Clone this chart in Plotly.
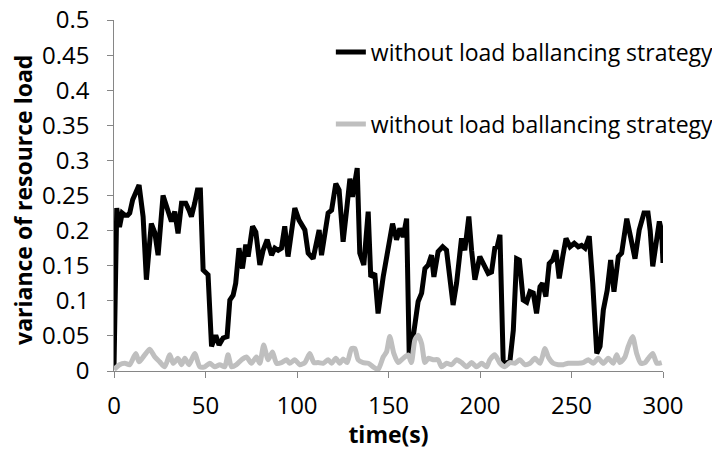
import plotly.graph_objects as go

# series
time_black = [0, 1.5, 3, 4.5, 6, 7.5, 8.6, 10.2, 13.7, 15.9, 17.7, 20.4, 22.3, 24.1, 26.8, 29, 31.4,
              33.2, 35, 36.9, 39.2, 41, 42.3, 44.1, 45.6, 47.2, 48.7, 51.4, 53.3, 55.6, 57.4, 59.6,
              61.8, 63.3, 65.1, 66.5, 68.3, 70.2, 72, 73.3, 75.7, 77.5, 79.7, 81.5, 83.7, 86.1, 87.9,
              89.7, 91.5, 93.3, 95.1, 98.8, 101.1, 104.3, 106.1, 108.8, 110.7, 112.1, 113.4, 115.2,
              117, 118.9, 121.2, 123, 125.2, 127.1, 128.9, 130.3, 132.9, 134.3, 136.5, 138.9, 140.3,
              142.5, 144.3, 147.1, 149.8, 152.2, 154.4, 156.2, 158, 159.9, 161.3, 163.5, 166.2, 168.1,
              169.9, 171.7, 173.5, 174.8, 177.1, 179.6, 181.7, 183.5, 185.3, 187.2, 189, 189.9, 191.7,
              193.9, 195.4, 197.2, 199.9, 202.7, 204.5, 206.3, 208.1, 209.4, 210.9, 212.7, 214.5,
              216.4, 218.2, 220, 221.5, 223.6, 225.5, 227.3, 229.1, 230.9, 232.8, 234.2, 236, 237.8,
              239.7, 241.5, 243.3, 245.2, 247, 249.2, 251.5, 253.7, 255.5, 257.4, 259.7, 261.6, 263.8,
              265.6, 267.4, 269.5, 271.4, 273.2, 275.6, 277.4, 280.2, 282.3, 284.7, 287, 289.6, 291.8,
              293, 294.4, 296.4, 298, 299.2, 300]
load_black = [0.005, 0.232, 0.205, 0.225, 0.222, 0.222, 0.225, 0.244, 0.265, 0.22, 0.13, 0.21, 0.197,
              0.165, 0.25, 0.234, 0.213, 0.227, 0.196, 0.239, 0.239, 0.229, 0.22, 0.239, 0.258, 0.258,
              0.144, 0.137, 0.035, 0.051, 0.037, 0.047, 0.049, 0.101, 0.108, 0.125, 0.175, 0.146, 0.18,
              0.163, 0.206, 0.198, 0.151, 0.172, 0.187, 0.165, 0.175, 0.172, 0.175, 0.206, 0.163, 0.232,
              0.215, 0.201, 0.168, 0.16, 0.189, 0.201, 0.165, 0.191, 0.225, 0.229, 0.267, 0.258, 0.184,
              0.229, 0.274, 0.248, 0.289, 0.168, 0.151, 0.227, 0.134, 0.139, 0.082, 0.134, 0.177, 0.21,
              0.187, 0.203, 0.191, 0.217, 0.025, 0.049, 0.099, 0.111, 0.146, 0.151, 0.165, 0.134, 0.17,
              0.177, 0.172, 0.137, 0.094, 0.125, 0.168, 0.189, 0.172, 0.22, 0.172, 0.13, 0.163, 0.149,
              0.139, 0.141, 0.175, 0.177, 0.194, 0.011, 0.011, 0.015, 0.058, 0.16, 0.158, 0.101, 0.098,
              0.113, 0.111, 0.082, 0.12, 0.125, 0.106, 0.153, 0.158, 0.172, 0.132, 0.163, 0.189, 0.177,
              0.182, 0.177, 0.179, 0.175, 0.192, 0.125, 0.025, 0.035, 0.087, 0.115, 0.158, 0.113, 0.163,
              0.168, 0.217, 0.191, 0.16, 0.201, 0.225, 0.225, 0.2, 0.149, 0.19, 0.213, 0.2, 0.154]

time_gray = [0, 3, 5.9, 8.6, 11.9, 13.7, 16.8, 19.5, 22.3, 25, 27.7, 30.5, 32.3, 35, 36.9, 38.7, 41,
             44.1, 46.9, 49.6, 52.3, 55.1, 57.8, 60.5, 62.3, 64.2, 66.9, 69.7, 72.4, 75.1, 77.8, 79.7,
             81.8, 84.2, 86.6, 88.8, 91.5, 94.3, 96, 98.8, 101.5, 104.3, 107, 109.2, 111.5, 114.3,
             117, 118.9, 121.2, 123.4, 125.2, 127.4, 129.8, 131.6, 133.4, 136.1, 138.9, 141.6, 144.3,
             147.1, 148.9, 150.7, 152.9, 155.3, 158, 160.7, 162.5, 164.4, 166.2, 168.1, 169.9, 171.7,
             174.4, 177.1, 179, 181.7, 184.5, 187.2, 190, 192.7, 195.4, 198.1, 200.9, 203.6, 205.4,
             208.1, 210.9, 213.6, 216.3, 219.1, 221.8, 224.5, 227.3, 230, 232.8, 235.5, 237.3, 240,
             242.8, 245.5, 248.2, 251, 253.7, 256.4, 259.2, 261.9, 264.6, 267.4, 270.1, 272.8, 274.7,
             276.5, 279.2, 281, 283.4, 285.6, 287.8, 290.2, 292, 294.4, 296.6, 299.3]
load_gray = [0.002, 0.009, 0.011, 0.009, 0.025, 0.013, 0.023, 0.031, 0.02, 0.013, 0.006, 0.023, 0.011,
             0.018, 0.009, 0.018, 0.009, 0.025, 0.006, 0.006, 0.011, 0.006, 0.009, 0.006, 0.023, 0.006,
             0.009, 0.016, 0.02, 0.011, 0.02, 0.011, 0.037, 0.016, 0.027, 0.011, 0.012, 0.016, 0.011,
             0.016, 0.009, 0.012, 0.025, 0.012, 0.012, 0.011, 0.016, 0.011, 0.018, 0.011, 0.017, 0.012,
             0.032, 0.032, 0.016, 0.012, 0.011, 0.006, 0.002, 0.02, 0.027, 0.049, 0.025, 0.012, 0.018,
             0.023, 0.012, 0.044, 0.051, 0.039, 0.012, 0.018, 0.016, 0.016, 0.006, 0.011, 0.009, 0.016,
             0.012, 0.006, 0.012, 0.006, 0.011, 0.006, 0.016, 0.023, 0.011, 0.006, 0.012, 0.011, 0.016,
             0.009, 0.011, 0.018, 0.011, 0.032, 0.02, 0.011, 0.009, 0.009, 0.011, 0.011, 0.011, 0.012,
             0.016, 0.011, 0.018, 0.011, 0.018, 0.011, 0.023, 0.012, 0.02, 0.035, 0.049, 0.025, 0.011,
             0.012, 0.018, 0.025, 0.011, 0.012]

series_name = "without load ballancing strategy"
axis_color = "#868686"
font_family = "Open Sans, sans-serif"

fig = go.Figure()
fig.add_trace(go.Scatter(x=time_black, y=load_black, mode="lines", name=series_name,
                         legendgroup="a", line=dict(color="#000000", width=5)))
fig.add_trace(go.Scatter(x=time_gray, y=load_gray, mode="lines", name=series_name,
                         legendgroup="b", line=dict(color="#BFBFBF", width=5, shape="spline", smoothing=0.6)))

# the page body has an 8px margin, so the figure is sized 8px smaller
fig.update_layout(
    width=712, height=442,
    margin=dict(l=106, r=57, t=12, b=79, autoexpand=False),
    paper_bgcolor="white",
    plot_bgcolor="white",
    font=dict(family=font_family, size=20, color="#000000"),
    showlegend=True,
    legend=dict(x=0.395, y=0.97, xanchor="left", yanchor="top", traceorder="grouped",
                tracegroupgap=39, font=dict(size=23, color="#000000"), bgcolor="rgba(0,0,0,0)"),
    xaxis=dict(range=[0, 300], dtick=50, showgrid=False, zeroline=False, automargin=False,
               showline=True, linecolor=axis_color, linewidth=1.3,
               ticks="outside", ticklen=6, tickcolor=axis_color, tickwidth=1.3,
               tickfont=dict(size=24), ticklabelstandoff=7, ticklabeloverflow="allow",
               title=dict(text="<b>time(s)</b>", font=dict(size=23), standoff=6)),
    yaxis=dict(range=[0, 0.5], dtick=0.05, showgrid=False, zeroline=False, automargin=False,
               showline=True, linecolor=axis_color, linewidth=1.3,
               ticks="outside", ticklen=6, tickcolor=axis_color, tickwidth=1.3,
               tickfont=dict(size=24), ticksuffix="\u00a0\u00a0", ticklabeloverflow="allow"),
    annotations=[dict(text="<b>variance of resource load</b>", textangle=-90,
                      xref="paper", yref="paper", x=-0.166, y=0.487,
                      xanchor="center", yanchor="middle", showarrow=False,
                      font=dict(size=23, color="#000000"))],
)

fig.write_html("out.html")
